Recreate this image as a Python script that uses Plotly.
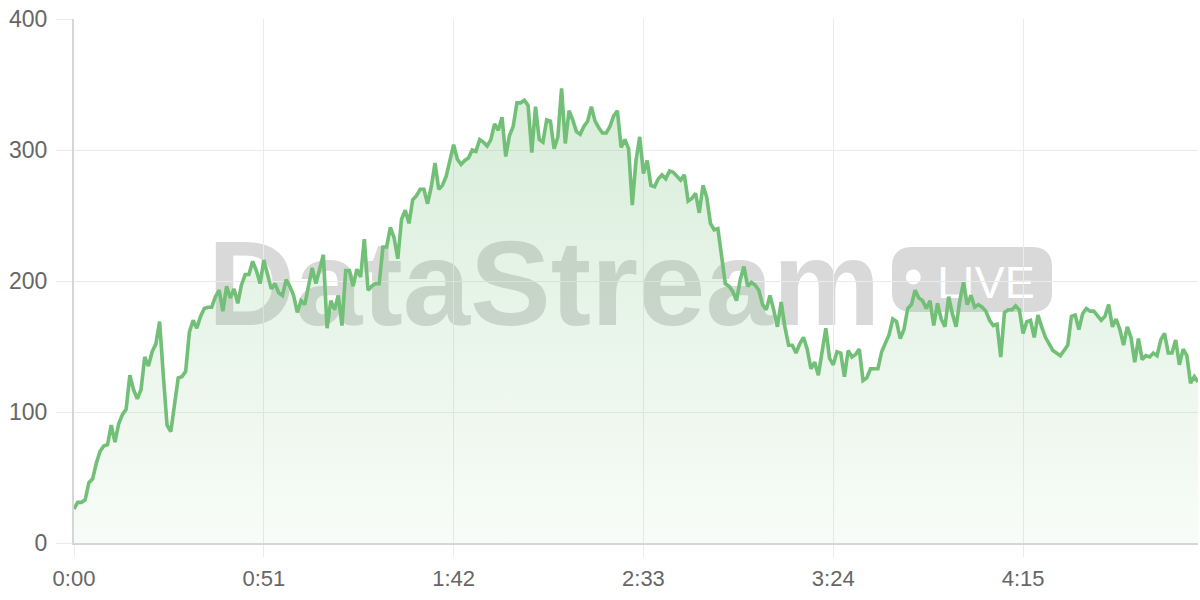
import plotly.graph_objects as go

# ---- data (seconds since start, listener count) ----
seconds = list(range(303))
values = [
    26, 31, 31, 33, 46, 49, 61, 70, 74, 75,
    90, 77, 91, 98, 102, 128, 117, 110, 117, 142,
    135, 146, 152, 169, 128, 90, 85, 106, 126, 127,
    131, 161, 170, 164, 173, 179, 180, 180, 188, 193,
    177, 196, 187, 194, 183, 197, 205, 205, 215, 208,
    198, 216, 205, 194, 198, 191, 189, 201, 196, 189,
    176, 185, 182, 196, 210, 198, 208, 220, 164, 185,
    178, 189, 166, 208, 208, 196, 209, 203, 232, 193,
    196, 198, 198, 226, 226, 241, 233, 217, 247, 254,
    244, 262, 265, 270, 270, 259, 272, 290, 270, 273,
    280, 291, 304, 293, 289, 292, 294, 300, 299, 308,
    306, 303, 308, 320, 315, 325, 295, 311, 318, 336,
    336, 338, 334, 298, 333, 308, 306, 323, 322, 301,
    310, 347, 305, 330, 323, 314, 312, 318, 322, 333,
    322, 317, 313, 313, 318, 326, 330, 302, 308, 301,
    258, 292, 310, 282, 292, 273, 272, 278, 281, 278,
    284, 283, 280, 277, 281, 261, 263, 267, 252, 273,
    264, 244, 239, 240, 219, 198, 196, 192, 185, 201,
    211, 196, 199, 197, 193, 182, 178, 189, 178, 165,
    184, 165, 151, 151, 145, 152, 157, 148, 133, 138,
    128, 145, 164, 141, 136, 146, 145, 127, 147, 142,
    144, 148, 124, 126, 133, 133, 133, 146, 152, 159,
    171, 169, 156, 163, 179, 182, 193, 187, 185, 179,
    185, 166, 183, 171, 165, 188, 175, 165, 185, 199,
    182, 189, 180, 182, 180, 177, 170, 166, 167, 142,
    176, 178, 178, 181, 178, 160, 169, 170, 157, 174,
    165, 157, 152, 147, 145, 143, 147, 151, 173, 174,
    163, 175, 179, 177, 177, 173, 170, 173, 182, 165,
    171, 163, 151, 165, 157, 138, 156, 140, 143, 142,
    145, 143, 155, 160, 145, 145, 155, 136, 148, 143,
    122, 127, 123,
]
x_tickvals = [0, 51, 102, 153, 204, 255]
x_ticktext = [f"{t // 60}:{t % 60:02d}" for t in x_tickvals]
y_tickvals = [0, 100, 200, 300, 400]

LINE = "#72bf77"
GRID = "#ebebeb"
AXIS = "#d6d6d6"
WM = "#d9d9d9"
TXT = "#666666"

W, H = 1200, 600
ML, MR, MT, MB = 74, 2, 19, 57
PW, PH = W - ML - MR, H - MT - MB


def px(x):
    return (x - ML) / PW


def py(y):
    return (H - MB - y) / PH


fig = go.Figure()
fig.add_trace(go.Scatter(
    x=seconds, y=values, mode="lines",
    line=dict(color=LINE, width=3.6),
    fill="tozeroy",
    fillgradient=dict(
        type="vertical",
        start=0, stop=350,
        colorscale=[[0, "rgba(114,191,119,0.05)"], [1, "rgba(114,191,119,0.28)"]],
    ),
    hoverinfo="skip",
))

# ---- watermark (below traces) ----
shapes = []
shapes.append(dict(
    type="rect", xref="paper", yref="paper", layer="below",
    x0=px(194), x1=px(894), y0=py(320), y1=py(224),
    line=dict(width=0), fillcolor="rgba(0,0,0,0)",
    label=dict(text="DataStream", textposition="middle center",
               font=dict(family="Liberation Sans", size=121, color=WM, weight="bold")),
))
# rounded pill
x0, x1, y0, y1, r = 892, 1052, 247, 312, 20
rx, ry = r / PW, r / PH
X0, X1, Y0, Y1 = px(x0), px(x1), py(y1), py(y0)
path = (f"M {X0 + rx},{Y0} L {X1 - rx},{Y0} Q {X1},{Y0} {X1},{Y0 + ry} "
        f"L {X1},{Y1 - ry} Q {X1},{Y1} {X1 - rx},{Y1} L {X0 + rx},{Y1} "
        f"Q {X0},{Y1} {X0},{Y1 - ry} L {X0},{Y0 + ry} Q {X0},{Y0} {X0 + rx},{Y0} Z")
shapes.append(dict(type="path", xref="paper", yref="paper", layer="below",
                   path=path, fillcolor=WM, line=dict(width=0)))
shapes.append(dict(type="circle", xref="paper", yref="paper", layer="below",
                   x0=px(913.3 - 7.5), x1=px(913.3 + 7.5),
                   y0=py(277 + 7.5), y1=py(277 - 7.5),
                   fillcolor="white", line=dict(width=0)))
shapes.append(dict(
    type="rect", xref="paper", yref="paper", layer="below",
    x0=px(930), x1=px(1042), y0=py(301), y1=py(255),
    line=dict(width=0), fillcolor="rgba(0,0,0,0)",
    label=dict(text="LIVE", textposition="middle center",
               font=dict(family="Liberation Sans", size=45, color="white")),
))

fig.update_layout(
    width=W, height=H,
    margin=dict(l=ML, r=MR, t=MT, b=MB, pad=0),
    paper_bgcolor="white", plot_bgcolor="white",
    showlegend=False,
    shapes=shapes,
    font=dict(family="Liberation Sans", size=22, color=TXT),
    xaxis=dict(
        range=[0, 302], tickvals=x_tickvals, ticktext=x_ticktext,
        showgrid=True, gridcolor=GRID, gridwidth=1,
        ticks="outside", ticklen=12, tickcolor=GRID, tickwidth=1,
        showline=True, linecolor=AXIS, linewidth=2,
        zeroline=False, tickfont=dict(size=22, color=TXT),
        ticklabelstandoff=3,
    ),
    yaxis=dict(
        range=[0, 400], tickvals=y_tickvals,
        showgrid=True, gridcolor=GRID, gridwidth=1,
        ticks="outside", ticklen=16, tickcolor=GRID, tickwidth=1,
        showline=True, linecolor=AXIS, linewidth=2,
        zeroline=False, tickfont=dict(size=23, color=TXT),
        ticklabelstandoff=4,
    ),
)

fig.write_html(
    "out.html",
    config={"displayModeBar": False},
    post_script="document.body.style.margin='0';document.body.style.overflow='hidden';",
)
